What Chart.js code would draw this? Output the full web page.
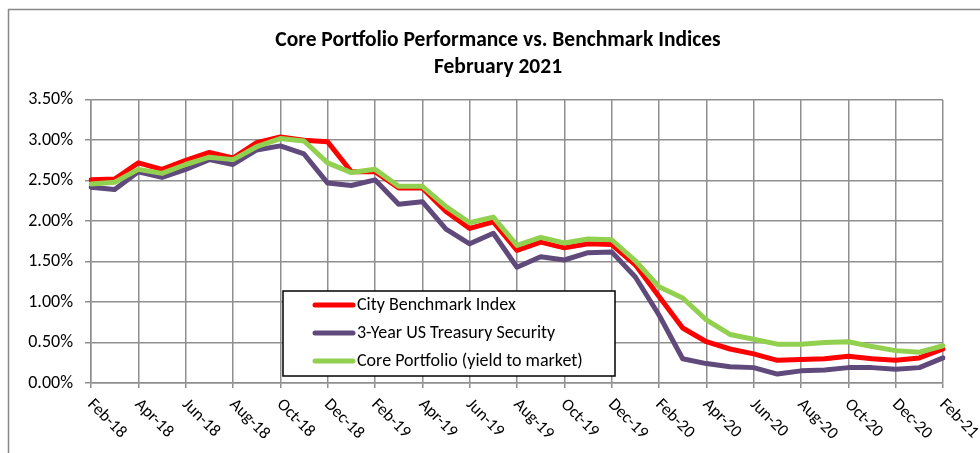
<!DOCTYPE html>
<html>
<head>
<meta charset="utf-8">
<script src="https://cdn.jsdelivr.net/npm/chart.js@4"></script>
<style>
  html, body { margin: 0; padding: 0; background: #fff; }
  #wrap { width: 980px; height: 453px; }
</style>
</head>
<body>
<div id="wrap"><canvas id="chart" width="980" height="453"></canvas></div>
<script>
// monthly points, Feb-18 .. Feb-21
const months = [
  'Feb-18', 'Mar-18', 'Apr-18', 'May-18', 'Jun-18', 'Jul-18', 'Aug-18', 'Sep-18', 'Oct-18', 'Nov-18', 'Dec-18',
  'Jan-19', 'Feb-19', 'Mar-19', 'Apr-19', 'May-19', 'Jun-19', 'Jul-19', 'Aug-19', 'Sep-19', 'Oct-19', 'Nov-19', 'Dec-19',
  'Jan-20', 'Feb-20', 'Mar-20', 'Apr-20', 'May-20', 'Jun-20', 'Jul-20', 'Aug-20', 'Sep-20', 'Oct-20', 'Nov-20', 'Dec-20',
  'Jan-21', 'Feb-21'
]

const cityBenchmark = [
  2.51, 2.52, 2.72, 2.64, 2.75, 2.85, 2.78, 2.97, 3.04, 3.00, 2.98,
  2.61, 2.61, 2.41, 2.41, 2.12, 1.91, 1.99, 1.64, 1.74, 1.67, 1.72, 1.71,
  1.46, 1.07, 0.68, 0.51, 0.42, 0.36, 0.28, 0.29, 0.30, 0.33, 0.30, 0.28,
  0.31, 0.42
]

const treasury3y = [
  2.42, 2.39, 2.61, 2.54, 2.64, 2.76, 2.70, 2.88, 2.93, 2.83, 2.47,
  2.44, 2.51, 2.21, 2.24, 1.90, 1.72, 1.85, 1.43, 1.56, 1.52, 1.61, 1.62,
  1.31, 0.84, 0.30, 0.24, 0.20, 0.19, 0.11, 0.15, 0.16, 0.19, 0.19, 0.17,
  0.19, 0.31
]

const corePortfolio = [
  2.46, 2.48, 2.64, 2.59, 2.70, 2.79, 2.76, 2.92, 3.02, 2.99, 2.72,
  2.60, 2.64, 2.43, 2.43, 2.18, 1.98, 2.05, 1.70, 1.80, 1.73, 1.78, 1.77,
  1.51, 1.19, 1.05, 0.78, 0.60, 0.54, 0.48, 0.48, 0.50, 0.51, 0.45, 0.40,
  0.38, 0.46
]

const titleLines = ['Core Portfolio Performance vs. Benchmark Indices', 'February 2021']
const FONT = "Carlito, Lato, 'Open Sans', sans-serif"
const GRID = '#8f8f8f'

Chart.defaults.font.family = FONT
Chart.defaults.color = '#000'

// outer frame of the chart object
const framePlugin = {
  id: 'frame',
  beforeDraw(chart) {
    const c = chart.ctx
    c.save()
    c.fillStyle = '#fff'
    c.fillRect(0, 0, chart.width, chart.height)
    c.strokeStyle = '#888'
    c.lineWidth = 1.5
    c.strokeRect(8.5, 9.5, 1200, 1000)
    c.restore()
  }
}

// slanted month labels, every second month, reading down to the right
const monthLabels = {
  id: 'monthLabels',
  afterDraw(chart) {
    const xs = chart.scales.x
    const c = chart.ctx
    c.save()
    c.font = '17px ' + FONT
    c.fillStyle = '#000'
    c.textAlign = 'left'
    c.textBaseline = 'middle'
    months.forEach((m, i) => {
      if (i % 2) return
      const x = xs.getPixelForTick(i)
      c.save()
      c.translate(x - 1, xs.top + 19)
      c.rotate(Math.PI / 4)
      c.fillText(m, 0, 0)
      c.restore()
    })
    c.restore()
  }
}

// boxed legend sitting inside the plot
const boxLegend = {
  id: 'boxLegend',
  afterDatasetsDraw(chart) {
    const c = chart.ctx
    const bx = 283, by = 291, bw = 332, bh = 85
    c.save()
    c.fillStyle = '#fff'
    c.fillRect(bx, by, bw, bh)
    c.strokeStyle = '#000'
    c.lineWidth = 1.5
    c.strokeRect(bx, by, bw, bh)
    c.font = '18px ' + FONT
    c.textBaseline = 'middle'
    c.textAlign = 'left'
    chart.data.datasets.forEach((ds, i) => {
      const y = by + 14 + i * 28
      c.strokeStyle = ds.borderColor
      c.lineWidth = 5
      c.lineCap = 'round'
      c.beginPath()
      c.moveTo(bx + 32, y)
      c.lineTo(bx + 70, y)
      c.stroke()
      c.fillStyle = '#000'
      c.fillText(ds.label, bx + 74, y)
    })
    c.restore()
  }
}

const ctx = document.getElementById('chart').getContext('2d')
const chart = new Chart(ctx, {
  type: 'line',
  data: {
    labels: months,
    datasets: [
      { label: 'City Benchmark Index', data: cityBenchmark, borderColor: '#ff0000', order: 2 },
      { label: '3-Year US Treasury Security', data: treasury3y, borderColor: '#604a7b', order: 1 },
      { label: 'Core Portfolio (yield to market)', data: corePortfolio, borderColor: '#92d050', order: 0 },
    ]
  },
  options: {
    responsive: false,
    animation: false,
    layout: { padding: { left: 16, right: 0, top: 0, bottom: 0 } },
    elements: {
      line: { borderWidth: 5, tension: 0, borderJoinStyle: 'round', borderCapStyle: 'round', fill: false },
      point: { radius: 0, hoverRadius: 0 }
    },
    plugins: {
      legend: { display: false },
      tooltip: { enabled: false },
      title: {
        display: true,
        text: titleLines,
        color: '#000',
        font: { size: 21.5, weight: 'bold', lineHeight: 1.25 },
        padding: { top: 27, bottom: 19 }
      }
    },
    scales: {
      x: {
        offset: false,
        ticks: { display: false, autoSkip: false },
        grid: {
          color: (c) => (c.index % 2 ? 'rgba(0,0,0,0)' : GRID),
          lineWidth: 1.5,
          tickLength: 5
        },
        border: { color: GRID, width: 1.5 },
        afterFit(scale) {
          scale.height = 70
          scale.paddingRight = 37
        }
      },
      y: {
        min: 0,
        max: 3.5,
        ticks: {
          stepSize: 0.5,
          padding: 12,
          font: { size: 18 },
          callback: (v) => v.toFixed(2) + '%'
        },
        grid: { color: GRID, lineWidth: 1.5, tickLength: 6 },
        border: { color: GRID, width: 1.5 },
        afterFit(scale) { scale.width = 75 }
      }
    }
  },
  plugins: [framePlugin, monthLabels, boxLegend]
})
</script>
</body>
</html>
